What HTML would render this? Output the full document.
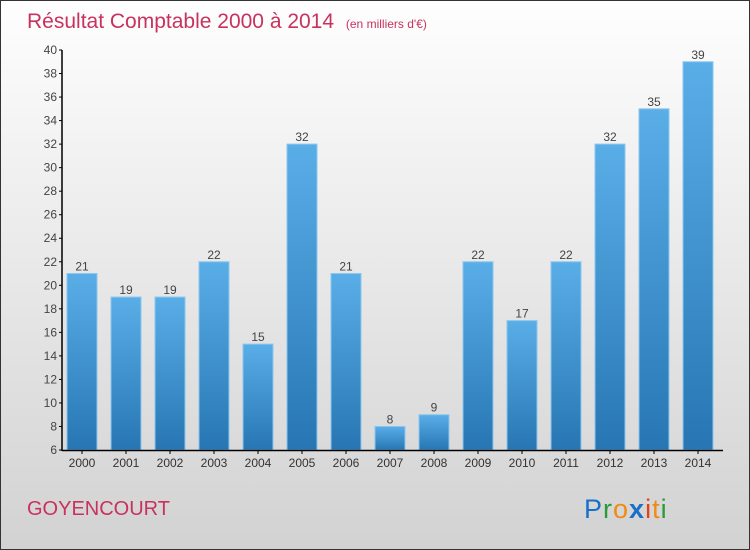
<!DOCTYPE html>
<html><head><meta charset="utf-8"><style>
body{margin:0}
#c{width:748px;height:548px;border:1px solid #333;background:linear-gradient(#fefefe,#d2d2d2);position:relative;font-family:"Liberation Sans",sans-serif;overflow:hidden}
</style></head><body>
<div id="c">
<svg width="748" height="548" id="s">
<defs><linearGradient id="g" x1="0" y1="0" x2="0" y2="1"><stop offset="0" stop-color="#5aaee8"/><stop offset="1" stop-color="#2776b3"/></linearGradient></defs>
<text x="26" y="27" font-size="21" fill="#c8325e">Résultat Comptable 2000 à 2014 <tspan font-size="12" dx="6">(en milliers d'€)</tspan></text>
<text x="26" y="514" font-size="20" fill="#c8325e">GOYENCOURT</text>
<text x="583" y="517" font-size="27" letter-spacing="1"><tspan fill="#1a6fc7">P</tspan><tspan fill="#2a9a3a">r</tspan><tspan fill="#f08a10">o</tspan><tspan fill="#1a6fc7" font-weight="bold">x</tspan><tspan fill="#e0401a">i</tspan><tspan fill="#f08a10">t</tspan><tspan fill="#2a9a3a">i</tspan></text>
<g id="plot"></g>
</svg></div>
<script>
const years=["2000","2001","2002","2003","2004","2005","2006","2007","2008","2009","2010","2011","2012","2013","2014"];
const values=[21,19,19,22,15,32,21,8,9,22,17,22,32,35,39];
const ticks=[6,8,10,12,14,16,18,20,22,24,26,28,30,32,34,36,38,40];
const NS="http://www.w3.org/2000/svg",p=document.getElementById('plot');
const y=v=>449-(v-6)/34*400, x=i=>81+i*44;
function mk(t,a,txt){const e=document.createElementNS(NS,t);for(const k in a)e.setAttribute(k,a[k]);if(txt!=null)e.textContent=txt;p.appendChild(e);return e;}
values.forEach((v,i)=>{
 const r=mk('rect',{x:x(i)-15,y:y(v),width:30,height:y(6)-y(v),fill:'url(#g)',stroke:'#8cc6ee','stroke-width':1});
 
 
 const t=mk('text',{x:x(i),y:y(v)-3,'font-size':12,fill:'#444','text-anchor':'middle'},v);
 
 
 const l=mk('text',{x:x(i),y:466,'font-size':12,fill:'#333','text-anchor':'middle'},years[i]);
 
 
 mk('line',{x1:x(i),x2:x(i),y1:449,y2:453,stroke:'#000'});
});
ticks.forEach(t=>{
 mk('line',{x1:58,x2:61,y1:y(t),y2:y(t),stroke:'#000'});
 const l=mk('text',{x:56,y:y(t)+4,'font-size':12,fill:'#444','text-anchor':'end'},t);
 
 
});
const ya=mk('line',{x1:61,x2:61,y1:49,y2:450,stroke:'#000','stroke-width':1.5});


const xa=mk('line',{x1:61,x2:722,y1:449.5,y2:449.5,stroke:'#000','stroke-width':1.5});


</script>
</body></html>
